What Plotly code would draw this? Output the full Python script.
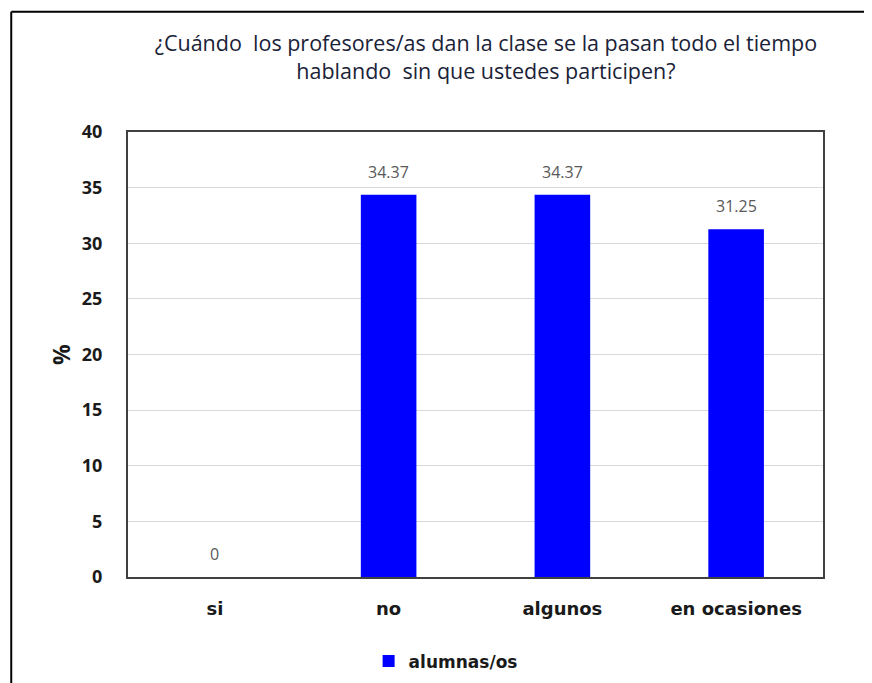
import plotly.graph_objects as go

categories = ["si", "no", "algunos", "en ocasiones"]
values = [0, 34.37, 34.37, 31.25]
value_labels = ["0", "34.37", "34.37", "31.25"]
series_name = "alumnas/os"
title_text = "¿Cuándo  los profesores/as dan la clase se la pasan todo el tiempo<br>hablando  sin que ustedes participen?"

fig = go.Figure()
fig.add_trace(go.Bar(
    x=categories, y=values, name=series_name,
    marker=dict(color="#0000ff", line=dict(width=0)),
    width=0.32, showlegend=True,
))

# data labels above the bars
for c, v, t in zip(categories, values, value_labels):
    fig.add_annotation(x=c, y=v, text=t, showarrow=False, yanchor="bottom",
                       yshift=10, font=dict(family="Open Sans", size=16, color="#595959"))

# outer frame (only left and top edges visible in the reference)
fig.add_shape(type="line", xref="paper", yref="paper", x0=-0.168, x1=1.2, y0=1.27, y1=1.27,
              line=dict(color="black", width=2))
fig.add_shape(type="line", xref="paper", yref="paper", x0=-0.168, x1=-0.168, y0=-0.3, y1=1.27,
              line=dict(color="black", width=2))

fig.update_layout(
    width=872, height=683,
    margin=dict(l=120, r=57, t=124, b=106),
    paper_bgcolor="white", plot_bgcolor="white",
    title=dict(text=title_text, x=0.515, xref="paper", xanchor="center", y=0.937, yanchor="top",
               font=dict(family="Open Sans", size=21.5, color="#1a2238")),
    xaxis=dict(showline=True, linecolor="#404040", linewidth=2, mirror=True,
               ticks="", ticklabelstandoff=14,
               tickfont=dict(family="DejaVu Sans", size=18, color="#1a1a1a", weight="bold")),
    yaxis=dict(range=[0, 40], dtick=5, showline=True, linecolor="#404040", linewidth=2,
               mirror=True, gridcolor="#d9d9d9", gridwidth=1, ticks="", ticklabelstandoff=20,
               zeroline=False,
               tickfont=dict(family="Open Sans", size=18, color="#1a1a1a", weight="bold"),
               title=dict(text="%", standoff=5,
                          font=dict(family="Open Sans", size=23, color="#1a1a1a", weight="bold"))),
    legend=dict(orientation="h", x=0.457, xanchor="center", y=-0.19, yanchor="middle",
                font=dict(family="DejaVu Sans", size=17, color="#1a1a1a", weight="bold")),
    bargap=0.68,
)

fig.write_html("out.html")
